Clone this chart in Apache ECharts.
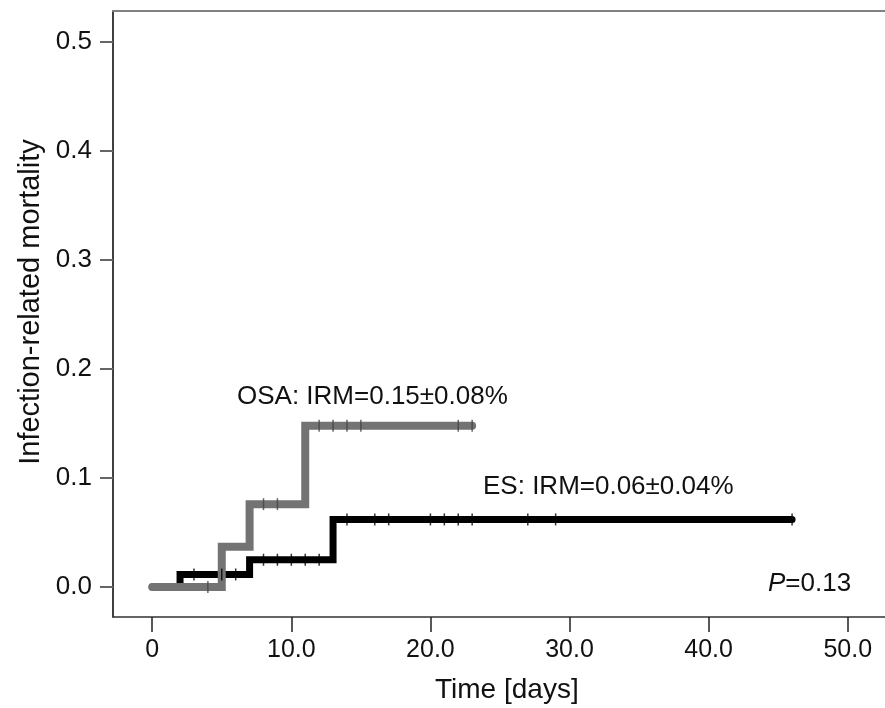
<!DOCTYPE html>
<html>
<head>
<meta charset="utf-8">
<script src="https://cdn.jsdelivr.net/npm/echarts@6/dist/echarts.min.js"></script>
<style>
html,body{margin:0;padding:0;background:#fff;}
#chart{width:885px;height:708px;}
</style>
</head>
<body>
<div id="chart"></div>
<script>
// ---- data ----
const osaTime = [0, 5, 7, 11, 23];
const osaIRM  = [0, 0.037, 0.076, 0.148, 0.148];
const esTime  = [0, 2, 7, 13, 46];
const esIRM   = [0, 0.0115, 0.025, 0.062, 0.062];
// censored observations (time, level)
const osaCensorTime = [4, 8, 9, 12, 13, 14, 15, 22, 23];
const osaCensorIRM  = [0, 0.076, 0.076, 0.148, 0.148, 0.148, 0.148, 0.148, 0.148];
const esCensorTime  = [3, 5, 6, 8, 9, 10, 11, 12, 14, 16, 17, 20, 21, 22, 23, 27, 29, 46];
const esCensorIRM   = [0.0115, 0.0115, 0.0115, 0.025, 0.025, 0.025, 0.025, 0.025,
                       0.062, 0.062, 0.062, 0.062, 0.062, 0.062, 0.062, 0.062, 0.062, 0.062];
const xTicks = [0, 10, 20, 30, 40, 50];
const xTickLabels = ['0', '10.0', '20.0', '30.0', '40.0', '50.0'];
const yTicks = [0, 0.1, 0.2, 0.3, 0.4, 0.5];
const yTickLabels = ['0.0', '0.1', '0.2', '0.3', '0.4', '0.5'];
const osaLabel = 'OSA: IRM=0.15\u00b10.08%';
const esLabel = 'ES: IRM=0.06\u00b10.04%';

const zip = (a, b) => a.map((v, i) => [v, b[i]]);
const FONT = '"Liberation Sans", Arial, Helvetica, sans-serif';
const X_MIN = -2.82, X_MAX = 52.68;
const Y_MIN = -0.0275, Y_MAX = 0.5284;

const chart = echarts.init(document.getElementById('chart'), null, {renderer: 'canvas'});
chart.setOption({
  animation: false,
  backgroundColor: '#fff',
  grid: {left: 113, right: -5, top: 11, bottom: 91, containLabel: false},
  xAxis: [{
    type: 'value', min: X_MIN, max: X_MAX, position: 'bottom',
    splitLine: {show: false},
    axisLine: {show: true, onZero: false, lineStyle: {color: '#333', width: 1.5}},
    axisTick: {show: true, length: 15, customValues: xTicks, lineStyle: {color: '#222', width: 1.5}},
    axisLabel: {
      customValues: xTicks, margin: 21, fontSize: 25, color: '#111', fontFamily: FONT,
      formatter: v => xTickLabels[xTicks.indexOf(Math.round(v))] ?? ''
    }
  }, {
    type: 'value', min: X_MIN, max: X_MAX, position: 'top',
    splitLine: {show: false},
    axisLine: {show: true, onZero: false, lineStyle: {color: '#808080', width: 2}},
    axisTick: {show: false}, axisLabel: {show: false}
  }],
  yAxis: {
    type: 'value', min: Y_MIN, max: Y_MAX,
    splitLine: {show: false},
    axisLine: {show: true, onZero: false, lineStyle: {color: '#000', width: 1.5}},
    axisTick: {show: true, length: 13, customValues: yTicks, lineStyle: {color: '#666', width: 2}},
    axisLabel: {
      customValues: yTicks, margin: 21, fontSize: 26, color: '#111', fontFamily: FONT,
      formatter: v => yTickLabels[yTicks.findIndex(t => Math.abs(t - v) < 1e-6)] ?? ''
    }
  },
  series: [{
    name: 'ES', type: 'line', step: 'end', data: zip(esTime, esIRM),
    showSymbol: false, z: 2,
    lineStyle: {color: '#000', width: 7, cap: 'round', join: 'miter'}
  }, {
    name: 'OSA', type: 'line', step: 'end', data: zip(osaTime, osaIRM),
    showSymbol: false, z: 3,
    lineStyle: {color: '#737373', width: 8, cap: 'round', join: 'miter'}
  }, {
    name: 'ES censored', type: 'scatter', data: zip(esCensorTime, esCensorIRM),
    symbol: 'rect', symbolSize: [1.5, 12], z: 4,
    itemStyle: {color: '#000'}
  }, {
    name: 'OSA censored', type: 'scatter', data: zip(osaCensorTime, osaCensorIRM),
    symbol: 'rect', symbolSize: [1.5, 12], z: 4,
    itemStyle: {color: '#444'}
  }],
  graphic: [{
    type: 'text', left: 237, top: 384,
    style: {text: osaLabel, font: '26px ' + FONT, fill: '#111'}
  }, {
    type: 'text', left: 483, top: 474,
    style: {text: esLabel, font: '26px ' + FONT, fill: '#111'}
  }, {
    type: 'text', left: 768, top: 571,
    style: {
      text: '{i|P}=0.13',
      rich: {i: {fontStyle: 'italic', fontSize: 26, fontFamily: FONT, fill: '#111'}},
      font: '26px ' + FONT, fill: '#111'
    }
  }, {
    type: 'text', left: 435, top: 676,
    style: {text: 'Time [days]', font: '28px ' + FONT, fill: '#111'}
  }, {
    type: 'text', x: 31, y: 302, rotation: Math.PI / 2,
    style: {text: 'Infection-related mortality', font: '29px ' + FONT, fill: '#111',
            align: 'center', verticalAlign: 'middle'}
  }]
});
</script>
</body>
</html>
